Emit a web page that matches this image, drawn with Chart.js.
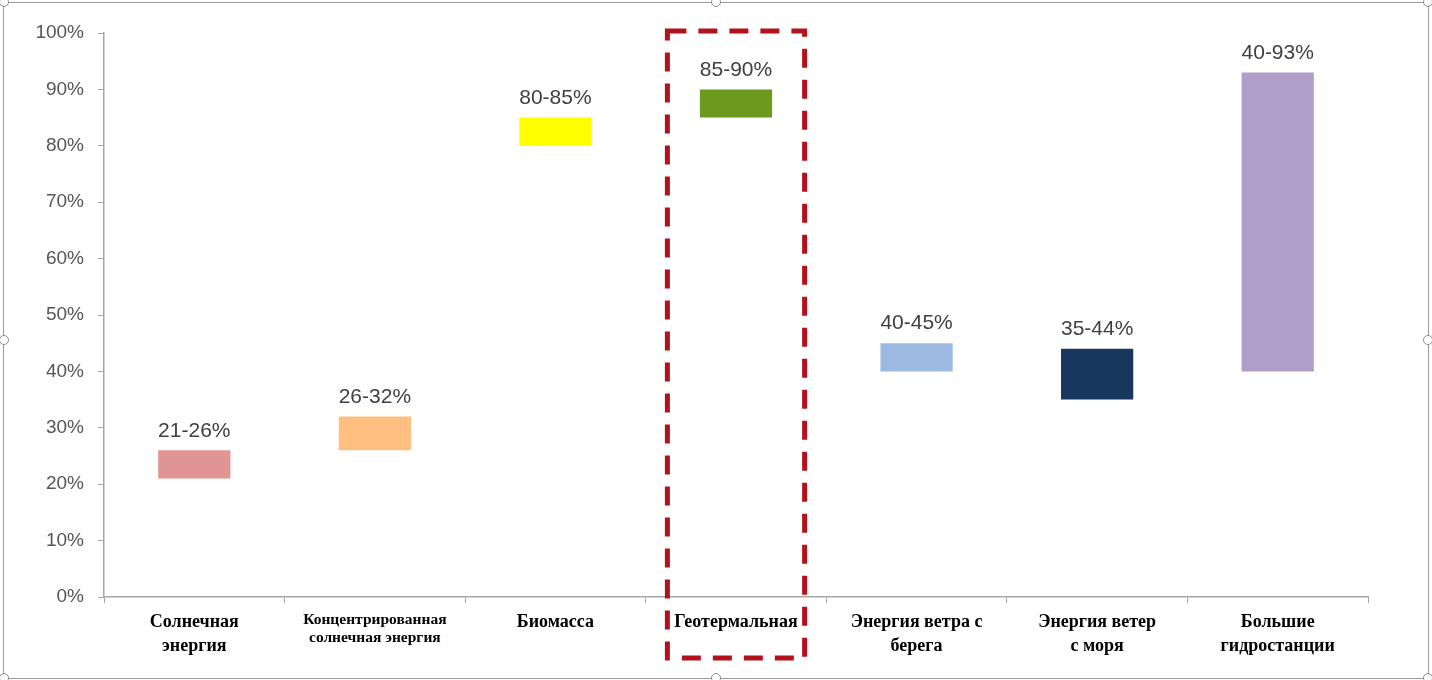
<!DOCTYPE html>
<html>
<head>
<meta charset="utf-8">
<script src="https://cdn.jsdelivr.net/npm/chart.js@4"></script>
<style>
    body { margin: 0; background: #fff; }
    #quadro { position: absolute; left: 3px; top: 2px; width: 1424px; height: 675px; border: 1px solid #9c9c9c; }
    .alca { position: absolute; width: 8px; height: 8px; border: 1px solid #8c8c8c; border-radius: 50%; background: #fff; }
    #grafico { position: absolute; left: 0; top: 0; }
</style>
</head>
<body>
<div id="quadro"></div>
<canvas id="grafico" width="1432" height="680"></canvas>
<div class="alca" style="left:-1px;top:-3px"></div>
<div class="alca" style="left:711px;top:-3px"></div>
<div class="alca" style="left:1423px;top:-3px"></div>
<div class="alca" style="left:-1px;top:335px"></div>
<div class="alca" style="left:1423px;top:335px"></div>
<div class="alca" style="left:-1px;top:673px"></div>
<div class="alca" style="left:711px;top:673px"></div>
<div class="alca" style="left:1423px;top:673px"></div>
<script>
// dados
const categorias = [
    ['Солнечная', 'энергия'],
    ['Концентрированная', 'солнечная энергия'],
    'Биомасса',
    'Геотермальная',
    ['Энергия ветра с', 'берега'],
    ['Энергия ветер', 'с моря'],
    ['Большие', 'гидростанции']
];
const minimos = [21, 26, 80, 85, 40, 35, 40];
const maximos = [26, 32, 85, 90, 45, 44, 93];
const cores = ['#E09494', '#FFBF80', '#FFFF00', '#6B9A1E', '#9BB9E1', '#17375E', '#B19DC9'];
const ticksY = [0, 10, 20, 30, 40, 50, 60, 70, 80, 90, 100];
const destaque = 3; // Геотермальная

var faixas = [];
for (var i = 0; i < minimos.length; i++) {
    faixas.push([minimos[i], maximos[i]]);
}

// rótulos "21-26%" em cima das barras
const rotulos = {
    id: 'rotulos',
    afterDatasetsDraw(chart) {
        const ctx = chart.ctx;
        const meta = chart.getDatasetMeta(0);
        ctx.save();
        ctx.font = '21px "Liberation Sans", Arial, sans-serif';
        ctx.fillStyle = '#404040';
        ctx.textAlign = 'center';
        ctx.textBaseline = 'bottom';
        meta.data.forEach((barra, i) => {
            const topo = chart.scales.y.getPixelForValue(maximos[i]);
            ctx.fillText(minimos[i] + '-' + maximos[i] + '%', barra.x, topo - 9);
        });
        ctx.restore();
    }
};

// retângulo tracejado vermelho
const moldura = {
    id: 'moldura',
    afterDraw(chart) {
        const ctx = chart.ctx;
        const x = chart.scales.x;
        const y = chart.scales.y;
        const largura = (x.getPixelForValue(1) - x.getPixelForValue(0)) * 0.38;
        const centro = x.getPixelForValue(destaque);
        const topo = y.getPixelForValue(100) - 2;
        const base = y.getPixelForValue(0) + 61;
        ctx.save();
        ctx.strokeStyle = '#B3121C';
        ctx.lineWidth = 5;
        ctx.setLineDash([19, 12]);
        ctx.strokeRect(centro - largura, topo, largura * 2, base - topo);
        ctx.restore();
    }
};

new Chart(document.getElementById('grafico'), {
    type: 'bar',
    data: {
        labels: categorias,
        datasets: [{
            data: faixas,
            backgroundColor: cores,
            borderWidth: 0,
            borderSkipped: false,
            barPercentage: 0.4,
            categoryPercentage: 1
        }]
    },
    options: {
        responsive: false,
        animation: false,
        layout: {
            padding: { left: 0, right: 64, top: 33, bottom: 0 }
        },
        scales: {
            y: {
                min: 0,
                max: 100,
                afterBuildTicks: (scale) => {
                    scale.ticks = ticksY.map(v => ({ value: v }));
                },
                afterFit: (scale) => {
                    scale.width = 104;
                },
                ticks: {
                    callback: (v) => v + '%',
                    color: '#555555',
                    padding: 14,
                    font: { family: '"Liberation Sans", Arial, sans-serif', size: 19 }
                },
                grid: {
                    drawOnChartArea: false,
                    drawTicks: true,
                    tickLength: 6,
                    color: '#A6A6A6'
                },
                border: { color: '#A6A6A6', width: 1.5 }
            },
            x: {
                afterFit: (scale) => {
                    scale.height = 83;
                },
                ticks: {
                    color: '#000',
                    padding: 8,
                    maxRotation: 0,
                    autoSkip: false,
                    font: (ctx) => {
                        // o rótulo longo tem letra menor
                        if (ctx.index === 1) {
                            return { family: '"Liberation Serif", "Times New Roman", serif', size: 15.5, weight: 'bold', lineHeight: 1.18 };
                        }
                        return { family: '"Liberation Serif", "Times New Roman", serif', size: 18, weight: 'bold', lineHeight: 1.3 };
                    }
                },
                grid: {
                    drawOnChartArea: false,
                    drawTicks: true,
                    tickLength: 6,
                    color: '#A6A6A6'
                },
                border: { color: '#A6A6A6', width: 1.5 }
            }
        },
        plugins: {
            legend: { display: false },
            tooltip: { enabled: false }
        }
    },
    plugins: [rotulos, moldura]
});
</script>
</body>
</html>
